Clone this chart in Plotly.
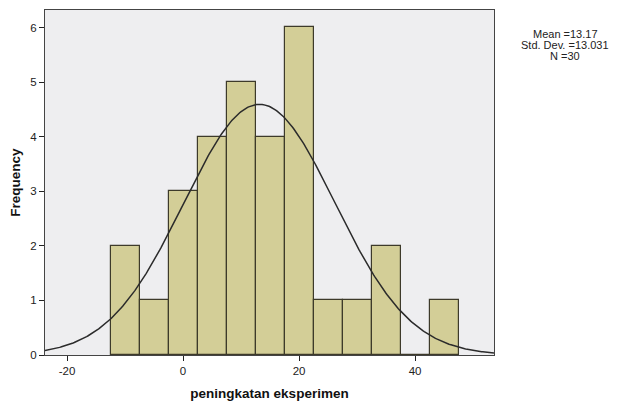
import numpy as np
import plotly.graph_objects as go

bin_centers = [-10, -5, 0, 5, 10, 15, 20, 25, 30, 35, 40, 45]
counts = [2, 1, 3, 4, 5, 4, 6, 1, 1, 2, 0, 1]
bin_width = 5
mean = 13.17
std = 13.031
n = 30
x_ticks = [-20, 0, 20, 40]
x_tick_labels = ["-20", "0", "20", "40"]
y_ticks = [0, 1, 2, 3, 4, 5, 6]
stats_lines = ["Mean =13.17", "Std. Dev. =13.031", "N =30"]

xs = np.linspace(-23.8, 53.6, 400)
ys = n * bin_width / (std * np.sqrt(2 * np.pi)) * np.exp(-0.5 * ((xs - mean) / std) ** 2)

fig = go.Figure()
fig.add_trace(go.Bar(
    x=bin_centers, y=counts, width=bin_width,
    marker=dict(color="#D3CE97", line=dict(color="#3d3a2a", width=1.2)),
    showlegend=False,
))
fig.add_trace(go.Scatter(
    x=xs, y=ys, mode="lines",
    line=dict(color="#2b2b2b", width=1.5),
    showlegend=False,
))

# plot area in page pixels: left 45, right 494, top 10, bottom 355
ann_y_px = [34.5, 45, 55.5]
annotations = [
    dict(x=(565 - 45) / 449, y=(355 - yp) / 345, xref="paper", yref="paper",
         xanchor="center", yanchor="middle", showarrow=False, text=t,
         font=dict(size=11, color="#222"))
    for t, yp in zip(stats_lines, ann_y_px)
]

fig.update_layout(
    width=611, height=396,
    margin=dict(l=37, r=125, t=2, b=49),
    paper_bgcolor="white",
    plot_bgcolor="#EEEEF0",
    bargap=0,
    font=dict(family="Liberation Sans, Arial, sans-serif", size=11.5, color="#222"),
    xaxis=dict(
        range=[-23.8, 53.6], tickvals=x_ticks, ticktext=x_tick_labels,
        ticks="outside", ticklen=5, automargin=False,
        tickcolor="#222", showgrid=False, zeroline=False,
        showline=True, linecolor="#444", linewidth=1.2, mirror=True,
        title=dict(text="<b>peningkatan eksperimen</b>", font=dict(size=13.5, color="#111"), standoff=12),
    ),
    yaxis=dict(
        range=[0, 6.32], tickvals=y_ticks, ticks="outside", ticklen=5, automargin=False,
        tickcolor="#222", showgrid=False, zeroline=False,
        showline=True, linecolor="#444", linewidth=1.2, mirror=True,
        title=dict(text="<b>Frequency</b>", font=dict(size=13.5, color="#111"), standoff=6),
    ),
    annotations=annotations,
)
fig.write_html("out.html")
